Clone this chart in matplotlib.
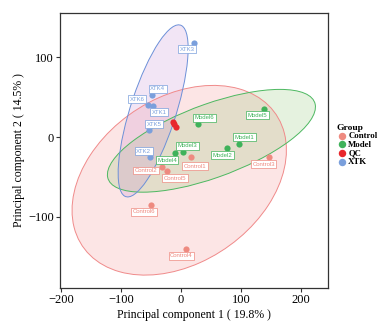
import numpy as np
import matplotlib
matplotlib.use("Agg")
import matplotlib.pyplot as plt
from matplotlib.patches import Ellipse

# PCA scores
groups = ["Control", "Model", "QC", "XTK"]
control_names = ["Control1", "Control2", "Control3", "Control4", "Control5", "Control6"]
control_pc1 = [17, -32, 146, 9, -23, -50]
control_pc2 = [-25, -38, -25, -140, -43, -85]

model_names = ["Model1", "Model2", "Model3", "Model4", "Model5", "Model6"]
model_pc1 = [96, 77, 3, -10, 138, 29]
model_pc2 = [-9, -14, -18, -20, 35, 17]

qc_pc1 = [-14, -11, -8]
qc_pc2 = [19, 16, 13]

xtk_names = ["XTK1", "XTK2", "XTK3", "XTK4", "XTK5", "XTK6"]
xtk_pc1 = [-46, -52, 22, -49, -53, -55]
xtk_pc2 = [39, -25, 118, 53, 9, 40]

# 95% confidence ellipses (Control, Model, XTK)
ell_groups = ["Control", "Model", "XTK"]
ell_cx = [-3, 50.7, -46.5]
ell_cy = [-54, -4.5, 33]
ell_a = [185, 179, 117]
ell_b = [109, 47, 37]
ell_angle = [18.6, 14.8, 66]

pt_col = {"Control": "#ee8a80", "Model": "#3fb25a", "QC": "#e8262c", "XTK": "#7a9fdc"}
line_col = {"Control": "#f08a8a", "Model": "#4cb860", "XTK": "#6c90d8"}
fill_col = {"Control": "#f08080", "Model": "#80c060", "XTK": "#c080d0"}

# label offsets in pixels (dx right, dy down)
offsets = {
    "Control1": (4, 9), "Control2": (-16, 3), "Control3": (-5, 7), "Control4": (-5, 7),
    "Control5": (8, 7), "Control6": (-7, 7),
    "Model1": (6, -7), "Model2": (-5, 7), "Model3": (5, -6), "Model4": (-8, 7),
    "Model5": (-6, 6), "Model6": (6, -6),
    "XTK1": (6, 6), "XTK2": (-6, -6), "XTK3": (-7, 6), "XTK4": (6, -6),
    "XTK5": (5, -6), "XTK6": (-11, -6),
}

plt.rcParams["font.family"] = ["Liberation Serif", "DejaVu Serif"]
fig = plt.figure(figsize=(3.84, 3.29), dpi=100)
ax = fig.add_axes([0.156, 0.125, 0.698, 0.836])

for g, cx, cy, a, b, ang in zip(ell_groups, ell_cx, ell_cy, ell_a, ell_b, ell_angle):
    ax.add_patch(Ellipse((cx, cy), 2 * a, 2 * b, angle=ang, fc=fill_col[g],
                         alpha=0.2, lw=0, zorder=1))
    ax.add_patch(Ellipse((cx, cy), 2 * a, 2 * b, angle=ang, fc="none",
                         ec=line_col[g], lw=0.7, zorder=2))

sets = {
    "Control": (control_pc1, control_pc2, control_names),
    "Model": (model_pc1, model_pc2, model_names),
    "XTK": (xtk_pc1, xtk_pc2, xtk_names),
}
for g in ["Control", "Model", "XTK"]:
    xs, ys, _ = sets[g]
    ax.scatter(xs, ys, s=20, color=pt_col[g], lw=0, zorder=3, label=g)
ax.scatter(qc_pc1, qc_pc2, s=20, color=pt_col["QC"], lw=0, zorder=3, label="QC")

for g in ["Control", "Model", "XTK"]:
    xs, ys, names = sets[g]
    for x, y, nm in zip(xs, ys, names):
        dx, dy = offsets[nm]
        ax.annotate(nm, (x, y), xytext=(dx * 0.72, -dy * 0.72), textcoords="offset points",
                    ha="center", va="center", fontsize=4.3, color=pt_col[g],
                    family="Liberation Sans", zorder=4,
                    bbox=dict(boxstyle="square,pad=0.25", fc="white", ec=pt_col[g], lw=0.5))

ax.set_xlim(-202, 245)
ax.set_ylim(-189, 156)
ax.set_xticks([-200, -100, 0, 100, 200])
ax.set_yticks([-100, 0, 100])
ax.set_xticklabels(["\u2212200", "\u2212100", "0", "100", "200"])
ax.set_yticklabels(["\u2212100", "0", "100"])
ax.tick_params(labelsize=9, length=3, width=0.8, color="#333333", pad=1.5)
for s in ax.spines.values():
    s.set_color("#333333")
    s.set_linewidth(0.9)
ax.set_xlabel("Principal component 1 ( 19.8% )", fontsize=8.5, labelpad=2)
ax.set_ylabel("Principal component 2 ( 14.5% )", fontsize=8.5, labelpad=2)

handles, labels = ax.get_legend_handles_labels()
order = [labels.index(g) for g in groups]
leg = fig.legend([handles[i] for i in order], groups, title="Group",
                 loc="center left", bbox_to_anchor=(0.866, 0.56), frameon=False,
                 fontsize=6.3, title_fontsize=6.8, handletextpad=0.1, labelspacing=0.05,
                 markerscale=1.2, borderpad=0, handlelength=1.2)
for t in leg.get_texts():
    t.set_fontweight("bold")
leg.get_title().set_fontweight("bold")
leg._legend_box.align = "left"

fig.savefig("out.png", dpi=100)
